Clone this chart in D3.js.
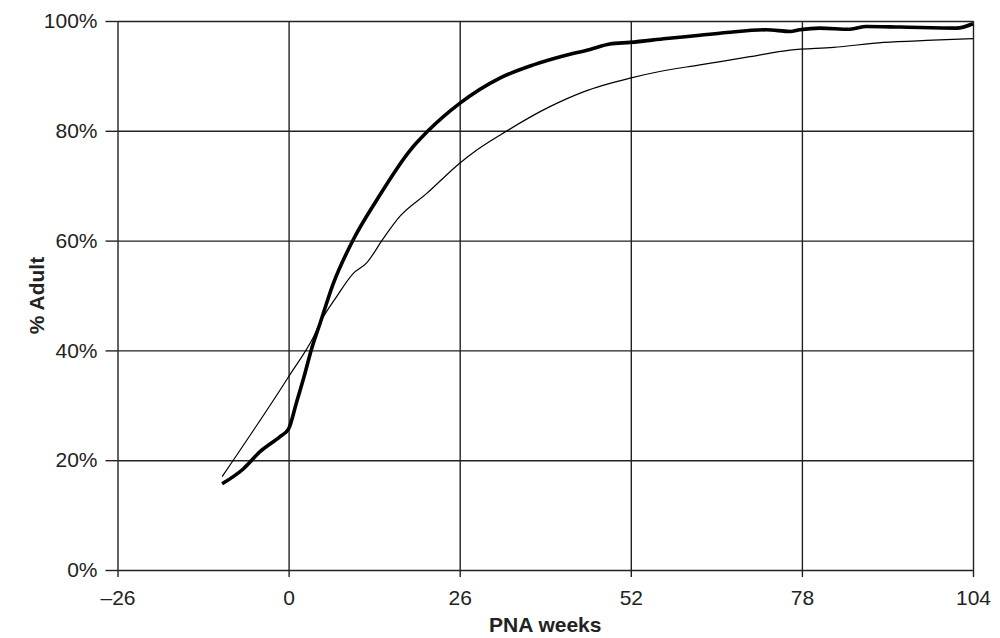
<!DOCTYPE html>
<html>
<head>
<meta charset="utf-8">
<script src="https://cdn.jsdelivr.net/npm/d3@7"></script>
<style>
  html, body { margin: 0; padding: 0; background: #fff; }
  svg { display: block; font-family: "Liberation Sans", Arial, Helvetica, sans-serif; }
</style>
</head>
<body>
<svg id="chart" width="1000" height="638"></svg>
<script>
// Tick values on each axis
const xTicks = [-26, 0, 26, 52, 78, 104];
const yTicks = [0, 20, 40, 60, 80, 100];

// Heavy series: postnatal age (weeks) and % of adult value
const heavyWeeks = [-10.1, -6.9, -4.3, -1.3, 0, 1.2, 2.3, 3.5, 4.8, 6.8, 9.8, 13.4, 18.5, 21.2, 26,
  32.1, 37.2, 42.3, 45.8, 48.8, 51.9, 57.4, 62.5, 66.6, 72.6, 76.2, 77.7, 80.7, 85.3, 87.8, 92.9, 101.5, 104];
const heavyPct = [15.7, 18.4, 21.6, 24.3, 25.7, 30.5, 35, 40.3, 45, 52.2, 60.1, 67.4, 76.5, 80, 85,
  89.6, 92, 93.8, 94.8, 95.8, 96.1, 96.8, 97.4, 97.9, 98.4, 98.1, 98.4, 98.7, 98.5, 99.0, 98.9, 98.7, 99.5];

// Light series
const lightWeeks = [-10.1, 0, 3.8, 5.0, 7.3, 9.8, 11.9, 14.4, 16.9, 21.0, 26.0, 28.6, 32.1, 39.7, 44.8,
  51.9, 56.4, 62.5, 70.1, 76.2, 82.8, 90.4, 97.9, 104];
const lightPct = [17, 35.2, 42.5, 45.5, 49.8, 54, 56, 60.4, 64.4, 68.6, 74.1, 76.5, 79.2, 84.4, 87.1,
  89.6, 90.8, 92, 93.5, 94.7, 95.2, 96.1, 96.5, 96.8];

const svg = d3.select("#chart");
const plotLeft = 117.5, plotRight = 973, plotTop = 21, plotBottom = 570;

const x = d3.scaleLinear().domain([-26, 104]).range([plotLeft, plotRight]);
const y = d3.scaleLinear().domain([0, 100]).range([plotBottom, plotTop]);

const gridColor = "#222";
const textColor = "#222";
const fontSize = "21px";

// Horizontal grid with outward ticks on the left
svg.append("g")
  .attr("transform", `translate(${plotLeft},0)`)
  .call(d3.axisLeft(y).tickValues(yTicks).tickSize(12).tickFormat(d => d + "%").tickPadding(8))
  .call(g => g.select(".domain").remove())
  .call(g => g.selectAll(".tick line").clone()
      .attr("x2", plotRight - plotLeft))
  .call(g => g.selectAll("line").attr("stroke", gridColor).attr("stroke-width", 1.4))
  .call(g => g.selectAll("text").attr("fill", textColor).style("font-size", fontSize)
      .style("font-family", "'Liberation Sans', Arial, sans-serif"));

// Vertical grid with outward ticks at the bottom
svg.append("g")
  .attr("transform", `translate(0,${plotBottom})`)
  .call(d3.axisBottom(x).tickValues(xTicks).tickSize(7)
      .tickFormat(d => d < 0 ? "\u2013" + Math.abs(d) : String(d)).tickPadding(13))
  .call(g => g.select(".domain").remove())
  .call(g => g.selectAll(".tick line").clone()
      .attr("y1", 0).attr("y2", plotTop - plotBottom))
  .call(g => g.selectAll("line").attr("stroke", gridColor).attr("stroke-width", 1.4))
  .call(g => g.selectAll("text").attr("fill", textColor).style("font-size", fontSize)
      .style("font-family", "'Liberation Sans', Arial, sans-serif"));

const line = d3.line()
  .x(d => x(d[0]))
  .y(d => y(d[1]))
  .curve(d3.curveMonotoneX);

const heavy = heavyWeeks.map((w, i) => [w, heavyPct[i]]);
const light = lightWeeks.map((w, i) => [w, lightPct[i]]);

svg.append("path")
  .datum(light)
  .attr("fill", "none")
  .attr("stroke", "#000")
  .attr("stroke-width", 1.2)
  .attr("d", line);

svg.append("path")
  .datum(heavy)
  .attr("fill", "none")
  .attr("stroke", "#000")
  .attr("stroke-width", 3.6)
  .attr("stroke-linejoin", "round")
  .attr("d", line);

// Axis titles
svg.append("text")
  .attr("x", (plotLeft + plotRight) / 2)
  .attr("y", 632)
  .attr("text-anchor", "middle")
  .attr("fill", textColor)
  .style("font-size", fontSize)
  .style("font-weight", "bold")
  .text("PNA weeks");

svg.append("text")
  .attr("transform", `translate(44,${(plotTop + plotBottom) / 2}) rotate(-90)`)
  .attr("text-anchor", "middle")
  .attr("fill", textColor)
  .style("font-size", fontSize)
  .style("font-weight", "bold")
  .text("% Adult");
</script>
</body>
</html>
